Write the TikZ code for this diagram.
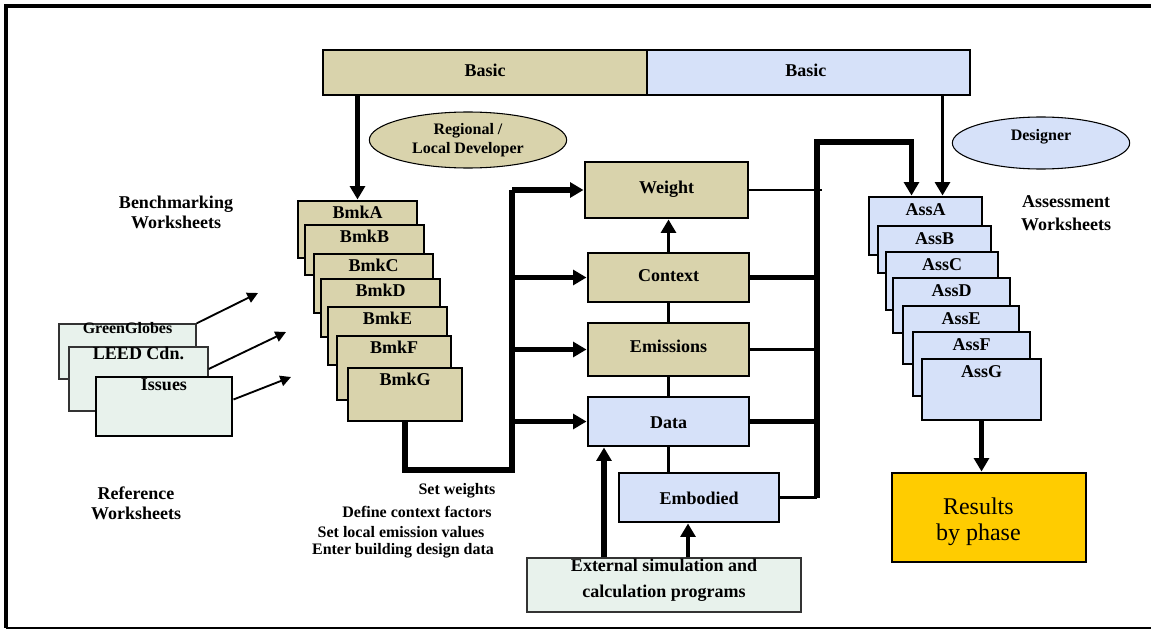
\documentclass[tikz,border=0pt]{standalone}
\usepackage{fontspec}
\setmainfont{Liberation Serif}
\usetikzlibrary{arrows.meta,fit,shapes.geometric,calc}
\definecolor{tanfill}{RGB}{217,211,172}
\definecolor{bluefill}{RGB}{214,225,249}
\definecolor{greenfill}{RGB}{232,242,236}
\definecolor{goldfill}{RGB}{255,204,0}
\newcommand\fmain{\fontsize{13.5pt}{15pt}\selectfont\bfseries}
\newcommand\fmainB{\fontsize{13.5pt}{17pt}\selectfont\bfseries}
\newcommand\fmainC{\fontsize{13.5pt}{19.5pt}\selectfont\bfseries}
\newcommand\fsmall{\fontsize{12pt}{14pt}\selectfont\bfseries}
\newcommand\fres{\fontsize{18pt}{19.5pt}\selectfont}
\begin{document}
\begin{tikzpicture}[x=0.75pt,y=-0.75pt,
  box/.style={draw=black, line width=2.2pt, inner sep=0pt, font=\fmain},
  tanbox/.style={box, fill=tanfill},
  bluebox/.style={box, fill=bluefill},
  refbox/.style={draw=black!80, line width=1pt, fill=greenfill, inner sep=0pt},
  toplbl/.style={anchor=north, inner sep=0pt, yshift=-4.5pt, font=\fmain},
  asslbl/.style={anchor=north, inner sep=0pt, yshift=-6pt, font=\fmain},
  ctr/.style={inner sep=0pt, font=\fmain},
  plain/.style={font=\fmain, align=center, inner sep=0pt},
  small/.style={font=\fsmall, align=center, inner sep=0pt},
  cloud/.style={ellipse, draw=black, line width=0.8pt, inner sep=0pt, font=\fsmall, align=center},
  cthin/.style={line width=2pt},
  cmid/.style={line width=2.6pt},
  cthick/.style={line width=3.8pt},
  rthin/.style={line width=1.4pt},
  tip/.style={-{Triangle[width=11pt,length=10pt]}},
  smalltip/.style={-{Triangle[width=8pt,length=8pt]}}
]
\useasboundingbox (0,0) rectangle (1151,631);
\fill[white] (0,0) rectangle (1151,631);

% frame
\coordinate (fTL) at (6,6);
\coordinate (fTR) at (1151,6);
\coordinate (fBL) at (6,628);
\coordinate (fBR) at (1151,628);
\draw[line width=2.4pt] (fTR) -- (fTL) -- (fBL);
\draw[line width=0.9pt] (fBL) -- (fBR);

% top bars
\node[tanbox, fit={(323,50) (647,95)}] (basicL) {};
\node[ctr] at ([yshift=1.5pt]basicL.center) {Basic};
\node[bluebox, fit={(647,50) (970,95)}] (basicR) {};
\node[ctr] at ([yshift=1.5pt,xshift=-2pt]basicR.center) {Basic};

% clouds
\node[cloud, fill=tanfill, minimum width=148pt, minimum height=42pt] (regdev) at (468,140) {Regional /\\Local Developer};
\node[cloud, fill=bluefill, minimum width=133pt, minimum height=39pt] (designer) at (1041,143) {};
\node[small] at ([yshift=5pt]designer.center) {Designer};

% labels
\node[plain] (benchlbl) at (176,212) {Benchmarking\\Worksheets};
\node[plain] (reflbl) at (136,503) {Reference\\Worksheets};
\node[plain, font=\fmainB] (asslbl) at (1066,213) {Assessment\\Worksheets};
\node[small] (t1) at (457,491) {Set weights};
\node[small] (t2) at (417,512) {Define context factors};
\node[small] (t3) at (401,532) {Set local emission values};
\node[small] (t4) at (403,551) {Enter building design data};

% reference worksheets
\node[refbox, fit={(59,324) (196,379)}] (gg) {};
\node[anchor=north, inner sep=0pt, font=\fsmall, yshift=1pt] at (gg.north) {GreenGlobes};
\node[refbox, fit={(69,347) (208,411)}] (leed) {};
\node[anchor=north, inner sep=0pt, font=\fmain, yshift=0pt] at (leed.north) {LEED Cdn.};
\node[refbox, line width=2.2pt, draw=black, fit={(96,377) (232,436)}] (issues) {};
\node[anchor=north, inner sep=0pt, font=\fmain, yshift=-2.5pt] at (issues.north) {Issues};

% benchmarking worksheets
\node[tanbox, fit={(298,201) (417,258)}] (bmkA) {};
\node[toplbl] at (bmkA.north) {BmkA};
\node[tanbox, fit={(305,225) (424,275)}] (bmkB) {};
\node[toplbl] at (bmkB.north) {BmkB};
\node[tanbox, fit={(314,254) (433,313)}] (bmkC) {};
\node[toplbl] at (bmkC.north) {BmkC};
\node[tanbox, fit={(321,279) (440,337)}] (bmkD) {};
\node[toplbl] at (bmkD.north) {BmkD};
\node[tanbox, fit={(328,307) (447,365)}] (bmkE) {};
\node[toplbl] at (bmkE.north) {BmkE};
\node[tanbox, fit={(337,336) (451,400)}] (bmkF) {};
\node[toplbl] at (bmkF.north) {BmkF};
\node[tanbox, fit={(348,368) (462,421)}] (bmkG) {};
\node[toplbl] at (bmkG.north) {BmkG};

% assessment worksheets
\node[bluebox, fit={(869,197) (982,255)}] (assA) {};
\node[asslbl] at (assA.north) {AssA};
\node[bluebox, fit={(878,226) (991,273)}] (assB) {};
\node[asslbl] at (assB.north) {AssB};
\node[bluebox, fit={(886,252) (998,310)}] (assC) {};
\node[asslbl] at (assC.north) {AssC};
\node[bluebox, fit={(893,278) (1010,333)}] (assD) {};
\node[asslbl] at (assD.north) {AssD};
\node[bluebox, fit={(903,306) (1019,364)}] (assE) {};
\node[asslbl] at (assE.north) {AssE};
\node[bluebox, fit={(913,332) (1030,396)}] (assF) {};
\node[asslbl] at (assF.north) {AssF};
\node[bluebox, fit={(922,359) (1041,420)}] (assG) {};
\node[asslbl] at (assG.north) {AssG};

% results
\node[box, fill=goldfill, fit={(892,473) (1086,562)}] (results) {};
\node[font=\fres, align=center, inner sep=0pt, xshift=-8pt, yshift=-3pt] at (results.center) {Results\\by phase};

% central column
\node[tanbox, fit={(585,162) (748,218)}] (weight) {};
\node[ctr] at ([yshift=0.3pt]weight.center) {Weight};
\node[tanbox, fit={(588,253) (749,302)}] (context) {};
\node[ctr] at ([yshift=1.5pt]context.center) {Context};
\node[tanbox, fit={(588,323) (749,376)}] (emissions) {};
\node[ctr] at ([yshift=2pt]emissions.center) {Emissions};
\node[bluebox, fit={(588,397) (749,446)}] (data) {};
\node[ctr] at ([yshift=-0.7pt]data.center) {Data};
\node[bluebox, fit={(619,473) (779,522)}] (embodied) {};
\node[ctr] at ([yshift=-0.3pt]embodied.center) {Embodied};
\node[refbox, fit={(527,558) (801,612)}] (ext) {};
\node[font=\fmainC, align=center, inner sep=0pt, yshift=3.5pt] at (ext.center) {External simulation and\\calculation programs};

% connectors: top bars
\draw[cthick,tip] (basicL.south -| bmkA.north) -- (bmkA.north);
\path ($(assA.north)+(17,0)$) coordinate (aA2);
\draw[cmid,tip] (basicR.south -| aA2) -- (aA2);

% left bus
\coordinate (lB) at (512,470);
\draw[cthick] (bmkG.south) |- (lB) -- (lB |- weight.west);
\draw[cthick,tip] (lB |- weight.west) -- (weight.west);
\draw[cthick,tip] (lB |- context.west) -- (context.west);
\draw[cthick,tip] (lB |- emissions.west) -- (emissions.west);
\draw[cthick,tip] (lB |- data.west) -- (data.west);

% central links
\draw[cmid,tip] (context.north) -- (context.north |- weight.south);
\draw[cmid] (context.south) -- (context.south |- emissions.north);
\draw[cmid] (emissions.south) -- (emissions.south |- data.north);
\draw[cmid] (data.south) -- (data.south |- embodied.north);
\path ($(ext.north)+(-60,0)$) coordinate (e1);
\path ($(ext.north)+(24,0)$) coordinate (e2);
\draw[cthick,tip] (e1) -- (e1 |- data.south);
\draw[cmid,tip] (e2) -- (e2 |- embodied.south);

% right bus
\coordinate (rT) at (817,142);
\path ($(assA.north)+(-14,0)$) coordinate (aA1);
\draw[cthick,tip] (embodied.east -| rT) -- (rT) -| (aA1);
\draw[cthin] (weight.east) -- ($(weight.east -| rT)+(5,0)$);
\draw[cthick] (context.east) -- (context.east -| rT);
\draw[cthin] (emissions.east) -- (emissions.east -| rT);
\draw[cthick] (data.east) -- (data.east -| rT);
\draw[cmid] (embodied.east) -- (embodied.east -| rT);

% results
\draw[cthick,tip] (assG.south) -- (assG.south |- results.north);

% reference arrows
\coordinate (r1) at (258,293);
\coordinate (r2) at (286,332);
\coordinate (r3) at (291,377);
\draw[rthin,smalltip] (gg.north east) -- (r1);
\draw[rthin,smalltip] ($(leed.east)+(0,-10)$) -- (r2);
\draw[rthin,smalltip] ($(issues.east)+(0,-7)$) -- (r3);
\end{tikzpicture}
\end{document}
